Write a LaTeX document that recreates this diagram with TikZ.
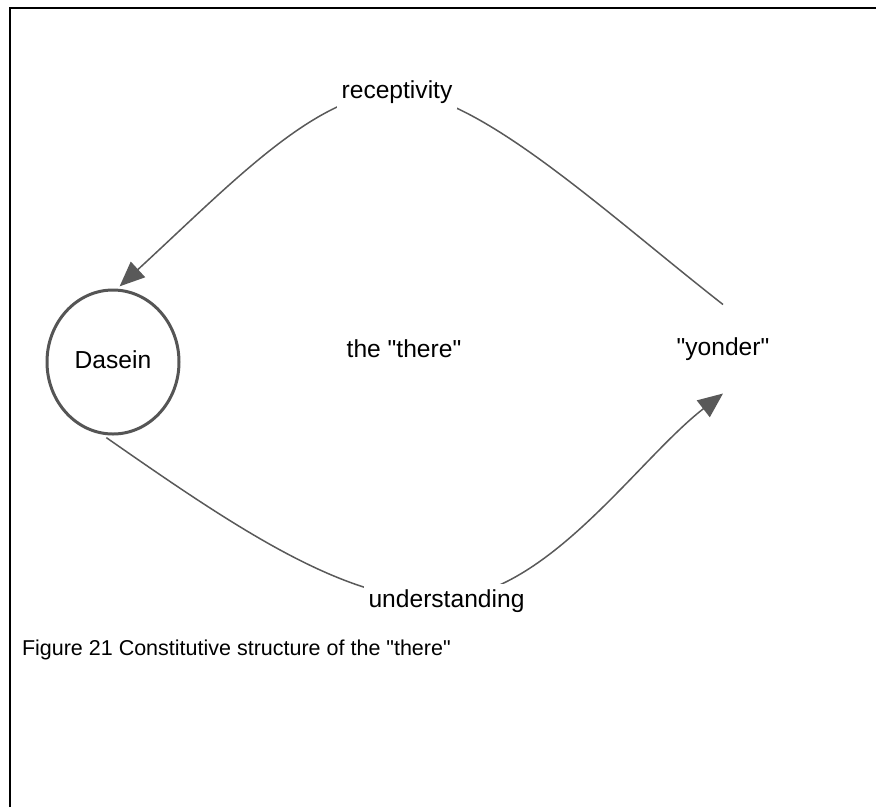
\documentclass[tikz,border=0pt]{standalone}
\usepackage{fontspec}
\setmainfont{Liberation Sans}[Ligatures=TeXOff]
\usetikzlibrary{arrows.meta,shapes.geometric}
\definecolor{edgegray}{HTML}{595959}
\definecolor{ringgray}{HTML}{555555}
\begin{document}
\begin{tikzpicture}[x=1pt,y=-1pt,
  every node/.style={inner sep=0pt, outer sep=0pt, text=black,
    font=\fontsize{24.6}{29}\selectfont},
  txt/.style={text height=18pt, text depth=5.5pt},
  lbl/.style={txt, fill=white, inner sep=5pt, anchor=base},
  conn/.style={draw=edgegray, line width=1.5pt},
  tip/.style={-{Triangle[length=25pt,width=21pt]}},
  ring/.style={ellipse, draw=ringgray, line width=3pt,
    minimum width=132pt, minimum height=144pt, outer sep=4pt},
  frame/.style={draw=black, line width=2pt}]
\useasboundingbox (0,0) rectangle (876,807);

% page frame (top and left edges)
\draw[frame] (10,807) -- (10,8) -- (876,8);

% the three places
\node[ring, txt] (dasein) at (113,362) {Dasein};
\node[txt, minimum height=89pt] (yonder) at (723,349) {"yonder"};
\node[txt, anchor=base] (there) at (404,357) {the "there"};

% receptivity: from the yonder back to Dasein
\draw[conn, tip] (yonder.north) .. controls (606,213) and (477,92) .. (397,92)
  node[lbl] (recv) at (397,98) {receptivity}
  .. controls (317,92) and (233,182) .. (dasein.85);

% understanding: from Dasein out to the yonder
\draw[conn, tip] (dasein.-95) .. controls (229,523) and (345,603) .. (440,599)
  node[lbl] (und) at (446.5,607) {understanding}
  .. controls (545,599) and (636,461) .. (yonder.south);

% caption
\node[font=\fontsize{21.5}{26}\selectfont, anchor=base west] (caption) at (22,655)
  {Figure 21 Constitutive structure of the "there"};
\end{tikzpicture}
\end{document}
